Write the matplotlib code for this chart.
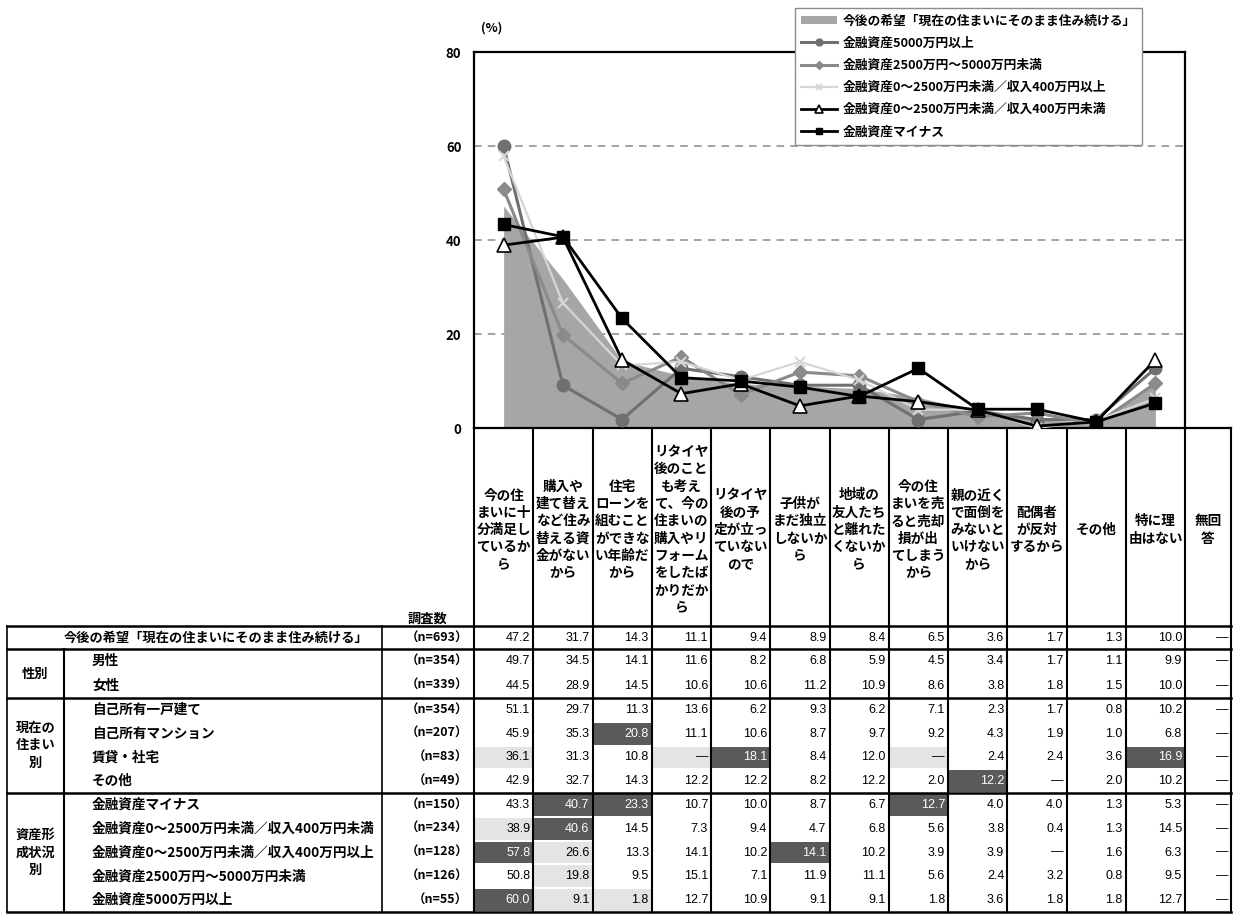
import matplotlib.pyplot as plt
import numpy as np
from matplotlib.patches import Rectangle, Patch

plt.rcParams['font.family'] = ['Noto Sans CJK JP', 'DejaVu Sans']

# column headers (reasons), last one is "no answer"
reasons = [
    "今の住\nまいに十\n分満足し\nているか\nら",
    "購入や\n建て替え\nなど住み\n替える資\n金がない\nから",
    "住宅\nローンを\n組むこと\nができな\nい年齢だ\nから",
    "リタイヤ\n後のこと\nも考え\nて、今の\n住まいの\n購入やリ\nフォーム\nをしたば\nかりだか\nら",
    "リタイヤ\n後の予\n定が立っ\nていない\nので",
    "子供が\nまだ独立\nしないか\nら",
    "地域の\n友人たち\nと離れた\nくないか\nら",
    "今の住\nまいを売\nると売却\n損が出\nてしまう\nから",
    "親の近く\nで面倒を\nみないと\nいけない\nから",
    "配偶者\nが反対\nするから",
    "その他",
    "特に理\n由はない",
    "無回\n答",
]

overall_label = "今後の希望「現在の住まいにそのまま住み続ける」"
overall_n = 693
overall = [47.2, 31.7, 14.3, 11.1, 9.4, 8.9, 8.4, 6.5, 3.6, 1.7, 1.3, 10.0, None]

sex_labels = ["男性", "女性"]
sex_n = [354, 339]
sex_values = [
    [49.7, 34.5, 14.1, 11.6, 8.2, 6.8, 5.9, 4.5, 3.4, 1.7, 1.1, 9.9, None],
    [44.5, 28.9, 14.5, 10.6, 10.6, 11.2, 10.9, 8.6, 3.8, 1.8, 1.5, 10.0, None],
]

home_labels = ["自己所有一戸建て", "自己所有マンション", "賃貸・社宅", "その他"]
home_n = [354, 207, 83, 49]
home_values = [
    [51.1, 29.7, 11.3, 13.6, 6.2, 9.3, 6.2, 7.1, 2.3, 1.7, 0.8, 10.2, None],
    [45.9, 35.3, 20.8, 11.1, 10.6, 8.7, 9.7, 9.2, 4.3, 1.9, 1.0, 6.8, None],
    [36.1, 31.3, 10.8, None, 18.1, 8.4, 12.0, None, 2.4, 2.4, 3.6, 16.9, None],
    [42.9, 32.7, 14.3, 12.2, 12.2, 8.2, 12.2, 2.0, 12.2, None, 2.0, 10.2, None],
]

asset_labels = ["金融資産マイナス", "金融資産0〜2500万円未満／収入400万円未満",
                "金融資産0〜2500万円未満／収入400万円以上", "金融資産2500万円〜5000万円未満",
                "金融資産5000万円以上"]
asset_n = [150, 234, 128, 126, 55]
asset_values = [
    [43.3, 40.7, 23.3, 10.7, 10.0, 8.7, 6.7, 12.7, 4.0, 4.0, 1.3, 5.3, None],
    [38.9, 40.6, 14.5, 7.3, 9.4, 4.7, 6.8, 5.6, 3.8, 0.4, 1.3, 14.5, None],
    [57.8, 26.6, 13.3, 14.1, 10.2, 14.1, 10.2, 3.9, 3.9, None, 1.6, 6.3, None],
    [50.8, 19.8, 9.5, 15.1, 7.1, 11.9, 11.1, 5.6, 2.4, 3.2, 0.8, 9.5, None],
    [60.0, 9.1, 1.8, 12.7, 10.9, 9.1, 9.1, 1.8, 3.6, 1.8, 1.8, 12.7, None],
]

groups = ["性別", "現在の\n住まい\n別", "資産形\n成状況\n別"]


def to_num(vals):
    return np.array([np.nan if v is None else v for v in vals], dtype=float)


W, H = 1234, 914
fig = plt.figure(figsize=(W / 100, H / 100), dpi=100)

# overlay in pixel coords for the table
tab = fig.add_axes([0, 0, 1, 1])
tab.set_xlim(0, W)
tab.set_ylim(H, 0)
tab.axis('off')

# chart axes
ax_l, ax_r, ax_t, ax_b = 474, 1185, 52, 428
ax = fig.add_axes([ax_l / W, 1 - ax_b / H, (ax_r - ax_l) / W, (ax_b - ax_t) / H])
n_plot = 12
x = np.arange(n_plot)
ax.set_xlim(-0.5, n_plot - 0.5)
ax.set_ylim(0, 80)
ax.set_yticks([0, 20, 40, 60, 80])
ax.set_xticks([])
ax.tick_params(axis='y', length=0, pad=9, labelsize=9.5)
for lbl in ax.get_yticklabels():
    lbl.set_fontweight('bold')
for s in ax.spines.values():
    s.set_linewidth(1.6)
for yv in [20, 40, 60]:
    ax.axhline(yv, color='#8a8a8a', lw=1.1, ls=(0, (5, 4)), zorder=0)

ov = np.nan_to_num(to_num(overall)[:n_plot])
ax.fill_between(x, ov, 0, color='#a6a6a6', lw=0, zorder=1)

styles = [
    dict(color='#707070', marker='o', ms=9, mfc='#707070', mec='#707070', lw=2.2),
    dict(color='#8a8a8a', marker='D', ms=7, mfc='#8a8a8a', mec='#8a8a8a', lw=2.2),
    dict(color='#d6d6d6', marker='x', ms=7, mew=1.5, lw=1.6),
    dict(color='black', marker='^', ms=10, mfc='white', mec='black', mew=1.2, lw=2.0),
    dict(color='black', marker='s', ms=9, mfc='black', mec='black', lw=2.0),
]
handles = [Patch(facecolor='#a6a6a6', edgecolor='none')]
labels = [overall_label]
for k, (lab, vals) in enumerate(zip(asset_labels[::-1], asset_values[::-1])):
    y = np.nan_to_num(to_num(vals)[:n_plot])
    ln, = ax.plot(x, y, zorder=3 + k, **styles[k])
    handles.append(ln)
    labels.append(lab)

fig.text(492 / W, 1 - 28 / H, "(%)", fontsize=9, fontweight='bold', ha='center', va='center')

leg = fig.legend(handles, labels, loc='upper left', bbox_to_anchor=(795 / W, 1 - 8 / H),
                 prop={'weight': 'bold', 'size': 9.2}, frameon=True, fancybox=False,
                 edgecolor='#8c8c8c', framealpha=1, handlelength=2.8, handleheight=0.6,
                 labelspacing=0.72, borderpad=0.5, handletextpad=0.4, markerscale=0.55,
                 borderaxespad=0)
leg.get_frame().set_linewidth(1.0)

# ---- table ----
col_w = (ax_r - ax_l) / n_plot
edges = [ax_l + i * col_w for i in range(n_plot + 1)] + [1231]
tbl_top, hdr_y = 626, 530
tab_left, grp_r, lab_r = 7, 64, 382
bottom = 912

for i, txt in enumerate(reasons):
    cx = (edges[i] + edges[i + 1]) / 2
    tab.text(cx, hdr_y, txt, ha='center', va='center', fontsize=9.8, fontweight='bold',
             linespacing=1.3, multialignment='center')
tab.text(427, 619, "調査数", ha='center', va='center', fontsize=9.5, fontweight='bold')

# vertical lines
for e in edges:
    tab.plot([e, e], [ax_b, bottom], color='black', lw=1.5, zorder=2)
tab.plot([ax_r, 1231], [ax_b, ax_b], color='black', lw=1.6)
for xe in [tab_left, lab_r]:
    tab.plot([xe, xe], [tbl_top, bottom], color='black', lw=1.2)
tab.plot([grp_r, grp_r], [649, bottom], color='black', lw=1.5)

group_bounds = [(649, 698), (698, 793), (793, bottom)]
for yb in [tbl_top, 649, 698, 793, bottom]:
    tab.plot([tab_left, 1231], [yb, yb], color='black', lw=1.8, zorder=2)

ov_num = np.nan_to_num(to_num(overall))


def draw_row(yc, y0, y1, vals, nval):
    nv = to_num(vals)
    for i in range(len(reasons)):
        v = nv[i]
        diff = np.nan_to_num(v) - ov_num[i]
        tcol = 'black'
        if i < n_plot and diff >= 5:
            tab.add_patch(Rectangle((edges[i] + 1, y0 + 1), edges[i + 1] - edges[i] - 2, y1 - y0 - 2,
                                    color='#5a5a5a', lw=0, zorder=1))
            tcol = 'white'
        elif i < n_plot and diff <= -5:
            tab.add_patch(Rectangle((edges[i] + 1, y0 + 1), edges[i + 1] - edges[i] - 2, y1 - y0 - 2,
                                    color='#e4e4e4', lw=0, zorder=1))
        s = "—" if np.isnan(v) else f"{v:.1f}"
        tab.text(edges[i + 1] - 3, yc, s, ha='right', va='center', fontsize=9,
                 color=tcol, family=['Liberation Sans', 'Noto Sans CJK JP'], zorder=3)
    tab.text(468, yc, f"（n={nval}）", ha='right', va='center', fontsize=9, fontweight='bold')


tab.text(216, 638, overall_label, ha='center', va='center', fontsize=9.5, fontweight='bold')
draw_row(638, tbl_top, 649, overall, overall_n)

for g, (lbls, ns, vals), (y0, y1) in zip(groups,
                                        [(sex_labels, sex_n, sex_values),
                                         (home_labels, home_n, home_values),
                                         (asset_labels, asset_n, asset_values)],
                                        group_bounds):
    tab.text((tab_left + grp_r) / 2, (y0 + y1) / 2, g, ha='center', va='center', fontsize=9.5,
             fontweight='bold', linespacing=1.3)
    rh = (y1 - y0) / len(lbls)
    for r, (lab, nval, v) in enumerate(zip(lbls, ns, vals)):
        r0 = y0 + r * rh
        yc = r0 + rh / 2
        tab.text(92, yc, lab, ha='left', va='center', fontsize=9.8, fontweight='bold')
        draw_row(yc, r0, r0 + rh, v, nval)

fig.savefig("out.png", dpi=100)
